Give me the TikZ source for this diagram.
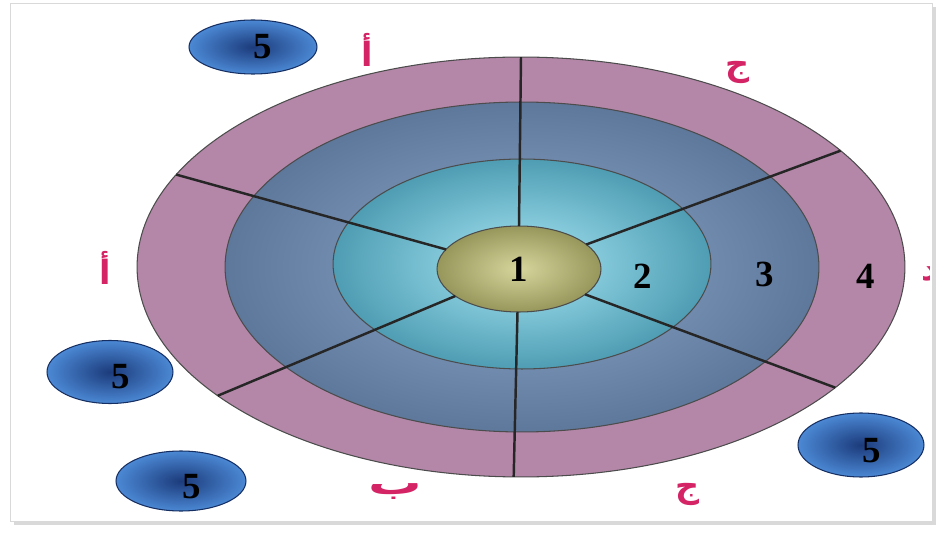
\documentclass[tikz,border=0pt]{standalone}
\usepackage{fontspec}
\setmainfont{Liberation Serif}
\newfontfamily\arabicfont[Script=Arabic]{DejaVu Sans}
\TeXXeTstate=1
\usetikzlibrary{shapes.geometric,shadows}

\definecolor{ringpink}{HTML}{B487A8}
\definecolor{slatein}{HTML}{8FA9CC}
\definecolor{slateout}{HTML}{5E789C}
\definecolor{tealin}{HTML}{A6E6F4}
\definecolor{tealout}{HTML}{4F9DB3}
\definecolor{olivein}{HTML}{D6D69C}
\definecolor{oliveout}{HTML}{97975C}
\definecolor{blobin}{HTML}{1C3B7B}
\definecolor{blobout}{HTML}{4B88D4}
\definecolor{arred}{HTML}{D42466}

\begin{document}
\begin{tikzpicture}[x=0.02cm, y=-0.02cm, every node/.style={font=\bfseries\fontsize{21}{24}\selectfont}]
\tikzset{
  ring/.style={ellipse, draw=black!70, line width=0.6pt, inner sep=0pt, outer sep=0pt},
  spoke/.style={line width=1.4pt, black!85},
  num/.style={inner sep=1pt, text=black},
  blob/.style={ellipse, draw=blobin!80!black, line width=0.6pt, inner sep=0pt,
    inner color=blobin, outer color=blobout},
  arlab/.style={inner sep=1pt, text=arred, font=\arabicfont\bfseries\fontsize{19}{22}\selectfont}
}
\useasboundingbox (0,0) rectangle (941,537);

% --- frame ---
\node[draw=gray!30, fill=white, drop shadow={opacity=0.3}, minimum width=18.44cm,
  minimum height=10.36cm, inner sep=0pt] (frame) at (471,262) {};

% --- rings ---
\node[ring, fill=ringpink, minimum width=15.36cm, minimum height=8.4cm] (rim) at (521,267) {};
\node[ring, inner color=slatein, outer color=slateout, minimum width=11.88cm, minimum height=6.6cm] (mantle) at (522,267) {};
\node[ring, inner color=tealin, outer color=tealout, minimum width=7.56cm, minimum height=4.2cm] (shell) at (522,264) {};
\node[ring, inner color=olivein, outer color=oliveout, minimum width=3.28cm, minimum height=1.72cm] (core) at (519,269) {1};

% --- spokes ---
\foreach \a in {90,165.5,203.5,268.5,339,20.5}
  \draw[spoke] (core.\a) -- (rim.\a);

\node[num] (n2) at (643,276) {2};
\node[num] (n3) at (765,274) {3};
\node[num] (n4) at (866,276) {4};

% --- outside bodies ---
\node[blob, minimum width=2.56cm, minimum height=1.08cm,
  label={[xshift=0.2cm, yshift=0cm]center:5}] (b1) at (253,47) {};
\node[blob, minimum width=2.52cm, minimum height=1.26cm,
  label={[xshift=0.22cm, yshift=-0.1cm]center:5}] (b2) at (110,372) {};
\node[blob, minimum width=2.6cm, minimum height=1.2cm,
  label={[xshift=0.22cm, yshift=-0.12cm]center:5}] (b3) at (181,481) {};
\node[blob, minimum width=2.52cm, minimum height=1.28cm,
  label={[xshift=0.22cm, yshift=-0.12cm]center:5}] (b4) at (861,445) {};

% --- letters ---
\node[arlab] (la1) at (367,50) {\beginR أ\endR};
\node[arlab] (lj1) at (738,72) {\beginR ج\endR};
\node[arlab] (la2) at (105,268) {\beginR أ\endR};
\node[arlab] (lb) at (395,492) {\scalebox{1.6}[1]{\beginR ب\endR}};
\node[arlab] (lj2) at (688,494) {\beginR ج\endR};
\begin{scope}
  \clip (880,0) rectangle (929,537);
  \node[arlab] (ld) at (930,274) {\beginR د\endR};
\end{scope}
\end{tikzpicture}
\end{document}
